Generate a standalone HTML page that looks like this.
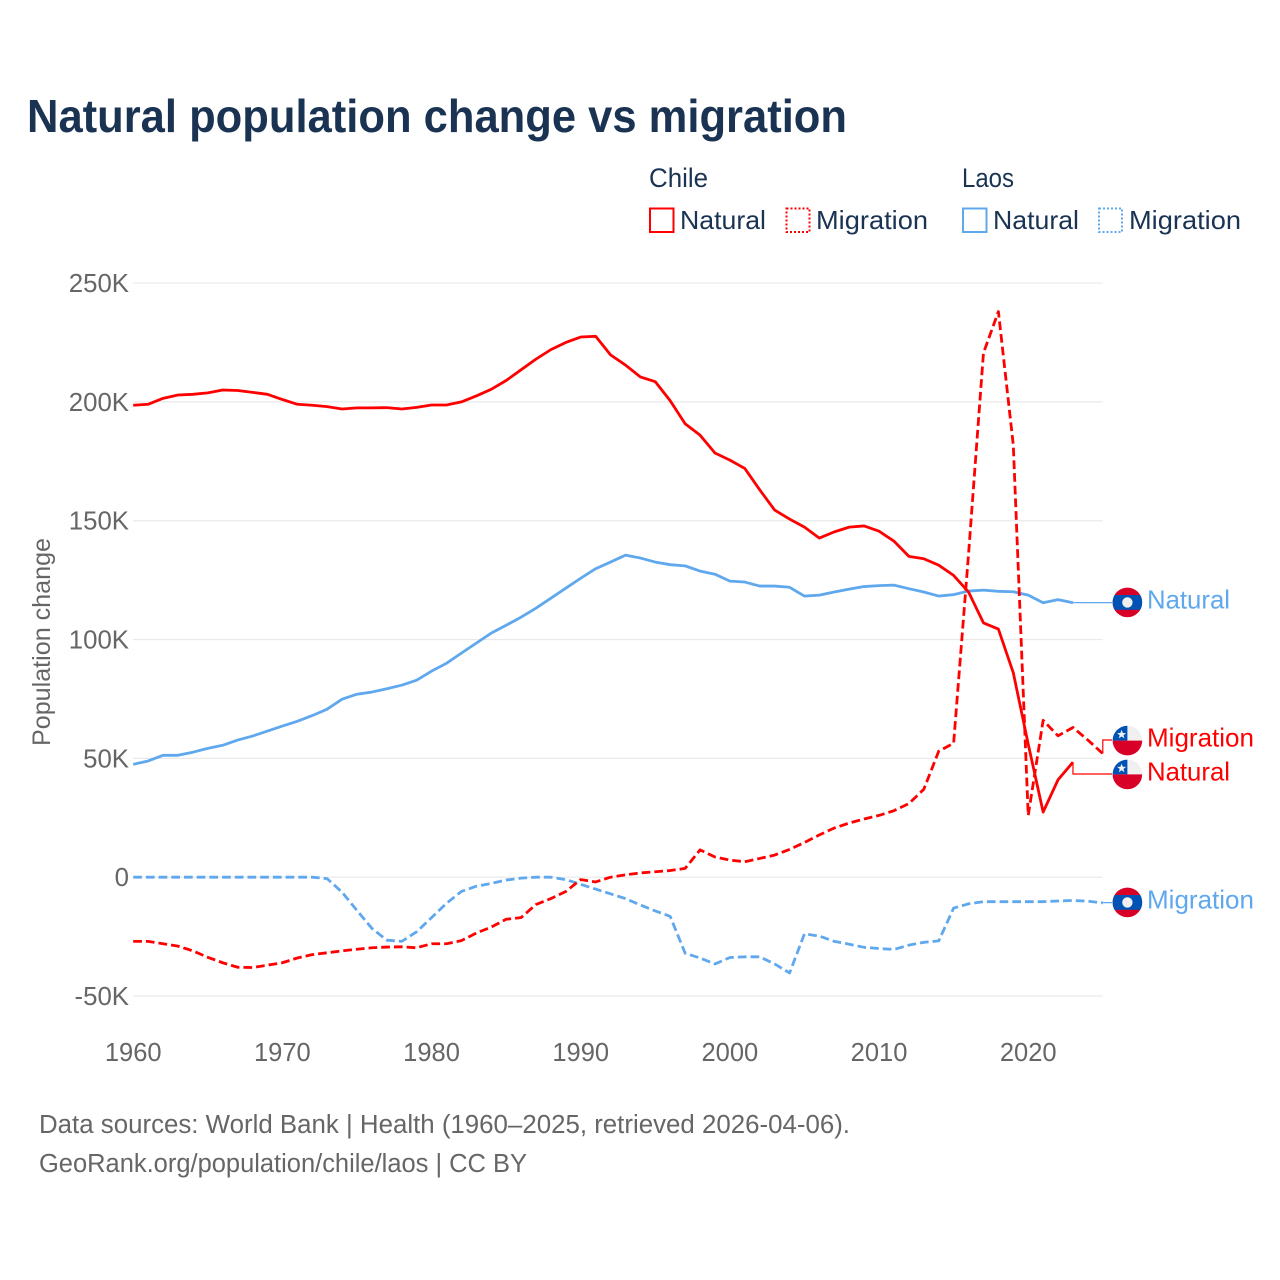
<!DOCTYPE html>
<html>
<head>
<meta charset="utf-8">
<title>Natural population change vs migration</title>
<style>
html,body{margin:0;padding:0;background:#fff}
svg{display:block}
text{font-family:"Liberation Sans",sans-serif}
</style>
</head>
<body>
<svg id="chart" xmlns="http://www.w3.org/2000/svg" width="1280" height="1280" viewBox="0 0 1280 1280">
  <defs>
    <clipPath id="flag-clip"><circle cx="0" cy="0" r="14.8"/></clipPath>
    <g id="flag-laos">
      <g clip-path="url(#flag-clip)">
        <rect x="-15" y="-15" width="30" height="30" fill="#d80027"/>
        <rect x="-15" y="-7.4" width="30" height="14.8" fill="#0052b4"/>
        <circle r="5.2" fill="#f0f0f0"/>
      </g>
    </g>
    <g id="flag-chile">
      <g clip-path="url(#flag-clip)">
        <rect x="-15" y="-15" width="30" height="15" fill="#f0f0f0"/>
        <rect x="-15" y="-15" width="15" height="15" fill="#0052b4"/>
        <rect x="-15" y="0" width="30" height="15" fill="#d80027"/>
        <polygon points="-5.8,-10.8 -4.6,-7.6 -1.3,-7.5 -3.9,-5.4 -3,-2.2 -5.8,-4.1 -8.6,-2.2 -7.7,-5.4 -10.3,-7.5 -7,-7.6" fill="#f0f0f0"/>
      </g>
    </g>
  </defs>

  <text x="27" y="132" font-size="46" font-weight="bold" fill="#1a3353" textLength="820" lengthAdjust="spacingAndGlyphs">Natural population change vs migration</text>

  <g font-size="26" fill="#1a3353">
    <text x="649" y="187" font-size="27" textLength="59" lengthAdjust="spacingAndGlyphs">Chile</text>
    <text x="962" y="187" font-size="27" textLength="52" lengthAdjust="spacingAndGlyphs">Laos</text>
    <rect x="650" y="208.5" width="23.5" height="23.5" fill="none" stroke="#ff0000" stroke-width="2"/>
    <text x="680" y="229" textLength="86" lengthAdjust="spacingAndGlyphs">Natural</text>
    <rect x="786.5" y="208.5" width="23" height="23.5" fill="none" stroke="#ff0000" stroke-width="2" stroke-dasharray="2 2"/>
    <text x="816" y="229" textLength="112" lengthAdjust="spacingAndGlyphs">Migration</text>
    <rect x="963" y="208.5" width="23.5" height="23.5" fill="none" stroke="#5fa8ee" stroke-width="2"/>
    <text x="993" y="229" textLength="86" lengthAdjust="spacingAndGlyphs">Natural</text>
    <rect x="1099" y="208.5" width="23" height="23.5" fill="none" stroke="#5fa8ee" stroke-width="2" stroke-dasharray="2 2"/>
    <text x="1129" y="229" textLength="112" lengthAdjust="spacingAndGlyphs">Migration</text>
  </g>

  <g id="grid"></g>
  <g id="y-ticks"></g>
  <g id="x-ticks"></g>
  <text transform="translate(50,746) rotate(-90)" font-size="25" fill="#666666" textLength="208" lengthAdjust="spacingAndGlyphs">Population change</text>

  <g id="series"></g>
  <g id="end-labels"></g>

  <g font-size="25.5" fill="#666666">
    <text x="39" y="1133" textLength="811" lengthAdjust="spacingAndGlyphs">Data sources: World Bank | Health (1960–2025, retrieved 2026-04-06).</text>
    <text x="39" y="1172" textLength="488" lengthAdjust="spacingAndGlyphs">GeoRank.org/population/chile/laos | CC BY</text>
  </g>
</svg>
<script>
const startYear = 1960;
const yTickValues = [-50, 0, 50, 100, 150, 200, 250];
const yTickLabels = ["-50K", "0", "50K", "100K", "150K", "200K", "250K"];
const xTickValues = [1960, 1970, 1980, 1990, 2000, 2010, 2020];
const chileNatural = [198.6,199,201.5,202.9,203.2,203.8,205,204.8,204,203.2,201,199,198.6,198,197,197.5,197.5,197.6,197,197.7,198.7,198.7,200,202.5,205.3,209,213.5,218,222,225,227.3,227.6,219.8,215.5,210.5,208.5,200.5,190.8,186,178.5,175.5,172,163,154.5,150.7,147.3,142.7,145.3,147.3,147.8,145.6,141.4,135,134,131.3,127,120,107,104.4,86,56,27.4,41,48.4];
const chileMigration = [-27,-27,-28,-29,-31,-33.7,-36,-37.9,-38,-37,-36,-34,-32.6,-31.8,-31,-30.3,-29.7,-29.4,-29.3,-29.7,-28,-28,-26.7,-23.5,-21,-17.7,-17,-11.5,-9,-6,-1,-2,0,1,1.8,2.3,2.8,3.7,11.5,8.5,7.2,6.5,7.9,9.3,11.7,14.6,17.8,20.7,22.8,24.5,26,28,31,37,53,56.4,136,220.6,238,181.8,26,66,59.5,63,57.7,52];
const laosNatural = [47.5,48.9,51.3,51.3,52.6,54.2,55.5,57.7,59.4,61.5,63.6,65.6,68,70.7,74.9,77,77.9,79.3,80.8,82.9,86.7,90,94.3,98.5,102.7,106,109.4,113.2,117.4,121.6,125.8,129.8,132.6,135.5,134.3,132.6,131.5,131,128.8,127.5,124.6,124.2,122.5,122.5,122,118.3,118.7,120,121.2,122.3,122.7,122.9,121.4,120,118.3,118.9,120.4,120.8,120.3,120.1,118.7,115.5,116.8,115.5];
const laosMigration = [0,0,0,0,0,0,0,0,0,0,0,0,0,-0.6,-6.3,-14,-21.5,-26.5,-27,-23,-17,-11,-6,-3.8,-2.6,-1.2,-0.4,0,0,-1,-3,-5,-7,-9,-11.7,-14.2,-16.5,-32,-34,-36.5,-33.8,-33.5,-33.5,-36.5,-40.3,-23.8,-24.8,-27,-28.2,-29.5,-30,-30.4,-28.6,-27.4,-26.8,-13,-11.2,-10.3,-10.3,-10.3,-10.3,-10.3,-10,-9.8,-10.1,-10.8];

const NS = "http://www.w3.org/2000/svg";
const RED = "#ff0000";
const BLUE = "#5fa8ee";
const LINE_WIDTH = 2.8;
function xScale(year) { return 133.2 + (year - 1960) * 14.917; }
function yScale(v) { return 877.2 - v * 2.3765; }

function make(parent, tag, attrs, text) {
  const el = document.createElementNS(NS, tag);
  for (const k in attrs) el.setAttribute(k, attrs[k]);
  if (text !== undefined) el.textContent = text;
  parent.appendChild(el);
  return el;
}

const gridG = document.getElementById("grid");
const yG = document.getElementById("y-ticks");
yTickValues.forEach(function (v, i) {
  const line = make(gridG, "line", {x1: 133, x2: 1102.6, y1: yScale(v), y2: yScale(v), stroke: "#e9e9e9", "stroke-width": 1.2});
  
  
  const label = make(yG, "text", {x: 129, y: yScale(v) + 9, "text-anchor": "end", "font-size": 25.8, fill: "#666666"}, yTickLabels[i]);
  
  
});

const xG = document.getElementById("x-ticks");
xTickValues.forEach(function (yr) {
  const label = make(xG, "text", {x: xScale(yr), y: 1061, "text-anchor": "middle", "font-size": 25.5, fill: "#666666"}, String(yr));
  
  
});

function pathFor(values) {
  return values.map(function (v, i) {
    return (i ? "L" : "M") + xScale(startYear + i).toFixed(2) + " " + yScale(v).toFixed(2);
  }).join(" ");
}

const seriesG = document.getElementById("series");
const laosMigrationLine = make(seriesG, "path", {d: pathFor(laosMigration), fill: "none", stroke: BLUE, "stroke-width": LINE_WIDTH, "stroke-dasharray": "8.7 4", "stroke-linejoin": "round"});


const laosNaturalLine = make(seriesG, "path", {d: pathFor(laosNatural), fill: "none", stroke: BLUE, "stroke-width": LINE_WIDTH, "stroke-linejoin": "round"});


const chileNaturalLine = make(seriesG, "path", {d: pathFor(chileNatural), fill: "none", stroke: RED, "stroke-width": LINE_WIDTH, "stroke-linejoin": "round"});


const chileMigrationLine = make(seriesG, "path", {d: pathFor(chileMigration), fill: "none", stroke: RED, "stroke-width": LINE_WIDTH, "stroke-dasharray": "8.7 4", "stroke-linejoin": "round"});



function lastPoint(values) {
  const i = values.length - 1;
  return [xScale(startYear + i), yScale(values[i])];
}

const labelsG = document.getElementById("end-labels");
function endLabel(values, flagY, connY, color, flagId, text, width) {
  const p = lastPoint(values);
  const connector = make(labelsG, "polyline", {points: p[0] + "," + p[1] + " " + p[0] + "," + connY + " 1112," + connY, fill: "none", stroke: color, "stroke-width": 1.2});
  
  
  const flag = make(labelsG, "use", {href: "#" + flagId, transform: "translate(1127.4," + flagY + ")"});
  
  
  const label = make(labelsG, "text", {x: 1147, y: flagY + 6, "font-size": 26, fill: color, textLength: width, lengthAdjust: "spacingAndGlyphs"}, text);
  
  
}
endLabel(laosNatural, 602.4, 602.6, BLUE, "flag-laos", "Natural", 83);
endLabel(chileMigration, 740.6, 740, RED, "flag-chile", "Migration", 107);
endLabel(chileNatural, 774.4, 774, RED, "flag-chile", "Natural", 83);
endLabel(laosMigration, 902.4, 902.6, BLUE, "flag-laos", "Migration", 107);
</script>
</body>
</html>
